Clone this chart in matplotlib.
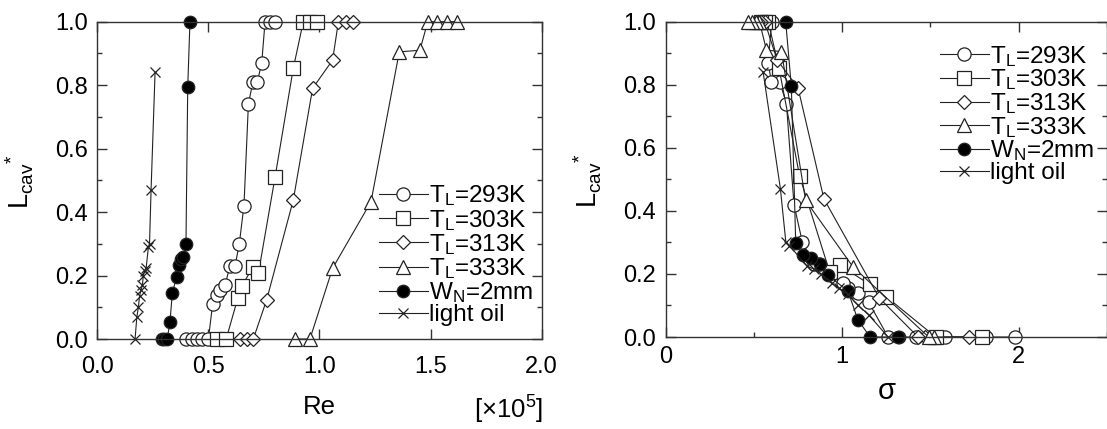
import matplotlib
matplotlib.use("Agg")
import matplotlib.pyplot as plt
from matplotlib.ticker import MultipleLocator

# ---------- DATA ----------
# left panel: Re [x10^5] vs L_cav*, right panel: sigma vs L_cav*
re_293 = [0.40, 0.425, 0.447, 0.47, 0.50, 0.519, 0.537, 0.552, 0.575, 0.597, 0.62, 0.639, 0.66, 0.68, 0.70, 0.72, 0.74, 0.755, 0.777, 0.80]
lcav_293 = [0, 0, 0, 0, 0, 0.11, 0.14, 0.155, 0.17, 0.23, 0.23, 0.30, 0.42, 0.74, 0.81, 0.81, 0.87, 1, 1, 1]
sig_293 = [1.98, 1.815, 1.585, 1.42, 1.26, 1.15, 1.088, 1.03, 1.003, 0.87, 0.84, 0.774, 0.726, 0.683, 0.645, 0.598, 0.579, 0.60, 0.58, 0.56]

re_303 = [0.54, 0.58, 0.632, 0.65, 0.702, 0.725, 0.80, 0.882, 0.927, 0.957, 0.987]
lcav_303 = [0, 0, 0.128, 0.167, 0.228, 0.207, 0.51, 0.853, 1, 1, 1]
sig_303 = [1.79, 1.53, 1.249, 1.155, 0.985, 0.928, 0.758, 0.641, 0.58, 0.56, 0.54]

re_313 = [0.642, 0.672, 0.702, 0.762, 0.882, 0.969, 1.059, 1.085, 1.12, 1.152]
lcav_313 = [0, 0, 0, 0.123, 0.438, 0.79, 0.879, 1, 1, 1]
sig_313 = [1.72, 1.47, 1.43, 1.211, 0.896, 0.749, 0.63, 0.56, 0.54, 0.52]

re_333 = [0.89, 0.957, 1.059, 1.232, 1.359, 1.452, 1.487, 1.53, 1.572, 1.62]
lcav_333 = [0, 0, 0.223, 0.433, 0.905, 0.91, 1, 1, 1, 1]
sig_333 = [1.52, 1.49, 1.06, 0.792, 0.655, 0.57, 0.53, 0.51, 0.49, 0.467]

re_wn = [0.29, 0.30, 0.315, 0.327, 0.338, 0.357, 0.368, 0.375, 0.387, 0.399, 0.407, 0.417]
lcav_wn = [0, 0, 0, 0.055, 0.146, 0.196, 0.233, 0.251, 0.259, 0.298, 0.795, 1.0]
sig_wn = [1.324, 1.315, 1.158, 1.088, 1.032, 0.918, 0.872, 0.825, 0.777, 0.736, 0.711, 0.679]

re_oil = [0.17, 0.178, 0.185, 0.19, 0.197, 0.203, 0.207, 0.213, 0.22, 0.23, 0.235, 0.242, 0.26]
lcav_oil = [0, 0.07, 0.10, 0.135, 0.155, 0.17, 0.20, 0.215, 0.225, 0.29, 0.30, 0.47, 0.84]
sig_oil = [1.26, 1.15, 1.09, 1.03, 0.98, 0.94, 0.88, 0.84, 0.80, 0.70, 0.68, 0.649, 0.551]

labels = [r'T$_\mathregular{L}$=293K', r'T$_\mathregular{L}$=303K', r'T$_\mathregular{L}$=313K',
          r'T$_\mathregular{L}$=333K', r'W$_\mathregular{N}$=2mm', 'light oil']

# ---------- STYLE ----------
plt.rcParams['font.family'] = ['Liberation Sans', 'DejaVu Sans']
plt.rcParams['mathtext.fontset'] = 'custom'
plt.rcParams['mathtext.rm'] = 'Liberation Sans'
plt.rcParams['mathtext.it'] = 'Liberation Sans:italic'
plt.rcParams['font.size'] = 17

INK = '#222222'
styles = [
    dict(marker='o', ms=9.5, mfc='white'),
    dict(marker='s', ms=9.5, mfc='white'),
    dict(marker='D', ms=7.5, mfc='white'),
    dict(marker='^', ms=10.5, mfc='white'),
    dict(marker='o', ms=9, mfc='black'),
    dict(marker='x', ms=7, mfc='none'),
]

left_x = [re_293, re_303, re_313, re_333, re_wn, re_oil]
right_x = [sig_293, sig_303, sig_313, sig_333, sig_wn, sig_oil]
yvals = [lcav_293, lcav_303, lcav_313, lcav_333, lcav_wn, lcav_oil]

fig = plt.figure(figsize=(11.07, 4.29), dpi=100)
ax1 = fig.add_axes([97.3 / 1107, 1 - 339 / 429, 444.4 / 1107, 317.3 / 429])
ax2 = fig.add_axes([666 / 1107, 1 - 337 / 429, 440.7 / 1107, 315.3 / 429])


def style_axes(ax, xlim, xmajor, xminor, xpad):
    ax.set_xlim(*xlim)
    ax.set_ylim(0, 1.0)
    ax.xaxis.set_major_locator(MultipleLocator(xmajor))
    if xminor:
        ax.xaxis.set_minor_locator(MultipleLocator(xminor))
    ax.yaxis.set_major_locator(MultipleLocator(0.2))
    ax.yaxis.set_minor_locator(MultipleLocator(0.1))
    ax.yaxis.set_major_formatter(plt.FormatStrFormatter('%.1f'))
    ax.tick_params(which='both', direction='in', top=True, right=True, color='#333333', width=1.0)
    ax.tick_params(which='major', length=7)
    ax.tick_params(which='minor', length=3.5)
    ax.tick_params(axis='y', pad=7, labelsize=17)
    ax.tick_params(axis='x', pad=xpad, labelsize=17)
    for s in ax.spines.values():
        s.set_color('#333333')
        s.set_linewidth(1.0)


for ax, xs in ((ax1, left_x), (ax2, right_x)):
    for x, y, st, lab in zip(xs, yvals, styles, labels):
        ax.plot(x, y, color=INK, lw=0.8, mec=INK, mew=0.9, label=lab, clip_on=False, **st)

style_axes(ax1, (0, 2.0), 0.5, None, 12.5)
ax1.xaxis.set_major_formatter(plt.FormatStrFormatter('%.1f'))
style_axes(ax2, (0, 2.5), 1, 0.5, 6.5)

# axis labels
ax1.set_xlabel('Re', fontsize=18.5)
ax1.xaxis.set_label_coords(0.5, -0.214)
ax1.xaxis.label.set_va('center')
fig.text(543 / 1107, 1 - 410 / 429, r'[$\times$10$^\mathregular{5}$]', ha='right', va='center', fontsize=18.5)

ax2.set_xlabel('σ', fontsize=21)
ax2.xaxis.set_label_coords(0.5, -0.17)
ax2.xaxis.label.set_va('center')

for ax, lx in ((ax1, -0.174), (ax2, -0.177)):
    ax.set_ylabel(r'L$_\mathregular{cav}$$^\mathregular{*}$', fontsize=19.5)
    ax.yaxis.set_label_coords(lx, 0.495)
    ax.yaxis.label.set_va('center')

leg_kw = dict(frameon=False, loc='upper left', borderpad=0, borderaxespad=0,
              handlelength=2.0, handletextpad=0.05, fontsize=17.5)
ax1.legend(bbox_to_anchor=(0.634, 0.49), labelspacing=-0.03, **leg_kw)
ax2.legend(bbox_to_anchor=(0.622, 0.93), labelspacing=-0.05, **leg_kw)

fig.savefig('out.png', dpi=100)
